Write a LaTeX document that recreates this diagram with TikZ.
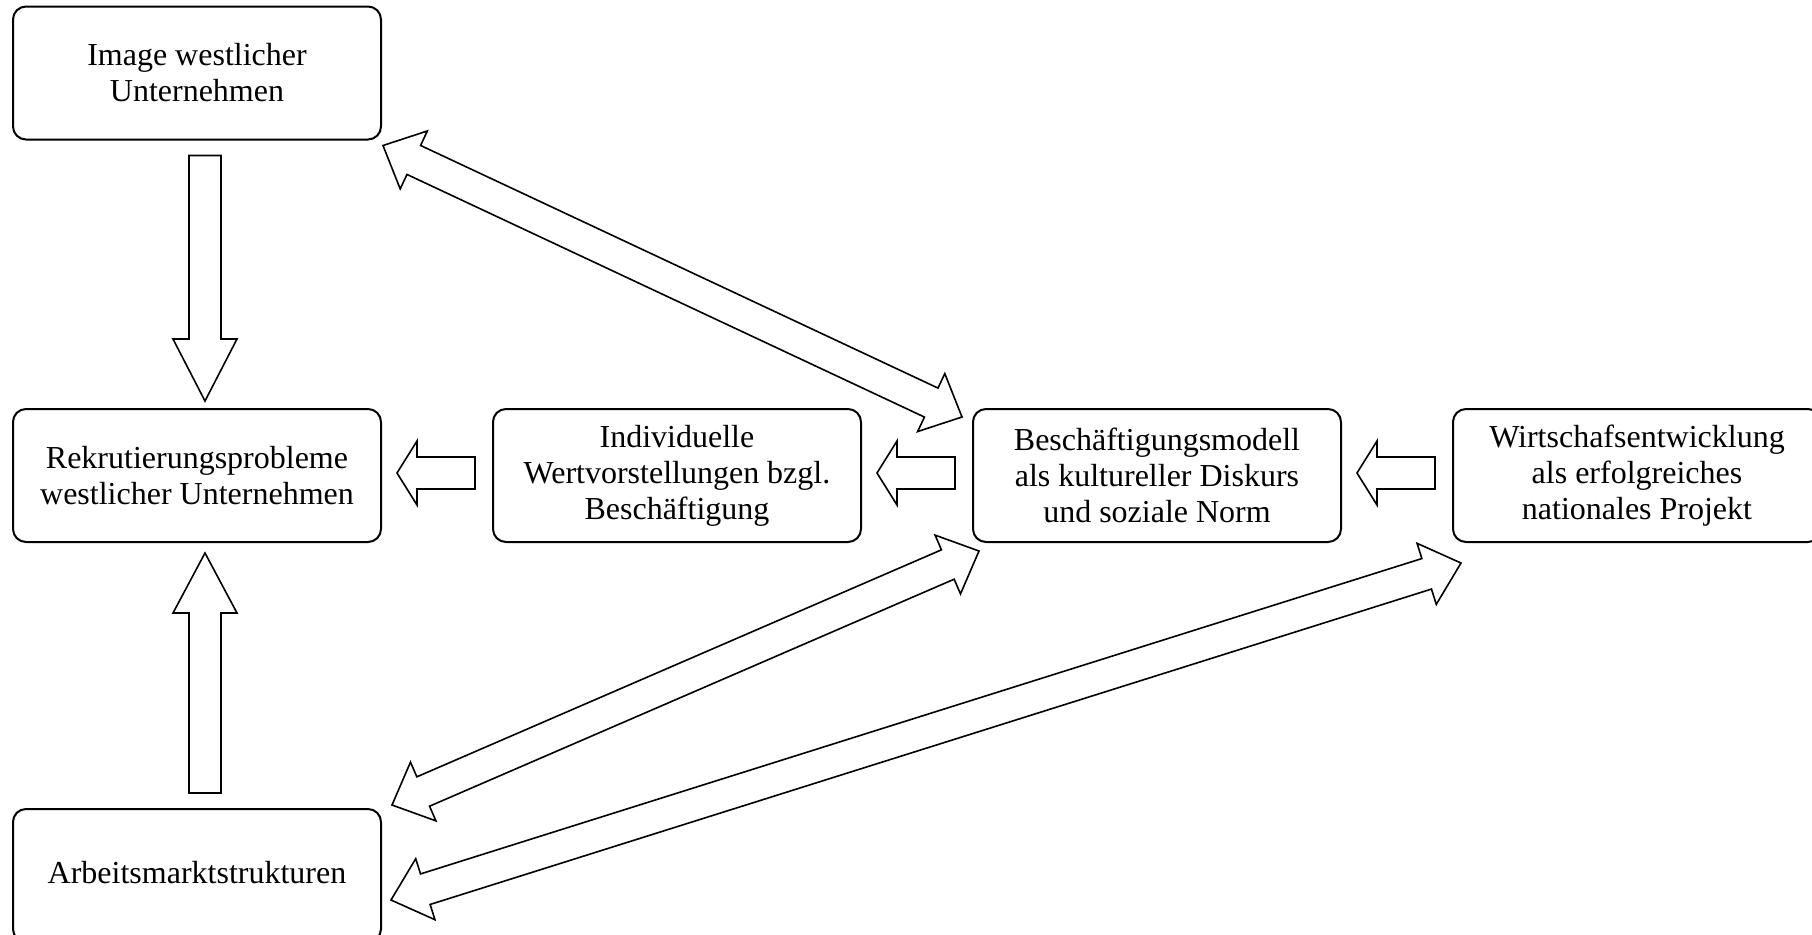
\documentclass[tikz,border=0pt]{standalone}
\usepackage{fontspec}
\setmainfont{Liberation Serif}
\usetikzlibrary{calc}

\newcommand{\arrshaft}{8pt}
\newcommand{\arrhead}{16pt}
% block arrow: tail, tip, head length
\newcommand{\onearrow}[3]{%
  \draw[fatarrow] ($(#1)!\arrshaft!90:(#2)$)
    -- ($(#2)!#3!(#1)!\arrshaft!90:(#2)$)
    -- ($(#2)!#3!(#1)!\arrhead!90:(#2)$)
    -- (#2)
    -- ($(#2)!#3!(#1)!\arrhead!270:(#2)$)
    -- ($(#2)!#3!(#1)!\arrshaft!270:(#2)$)
    -- ($(#1)!\arrshaft!270:(#2)$) -- cycle;}
% block arrow with two heads: tip, tip, head length
\newcommand{\twoarrow}[3]{%
  \draw[fatarrow] (#1)
    -- ($(#1)!#3!(#2)!\arrhead!90:(#2)$)
    -- ($(#1)!#3!(#2)!\arrshaft!90:(#2)$)
    -- ($(#2)!#3!(#1)!\arrshaft!90:(#2)$)
    -- ($(#2)!#3!(#1)!\arrhead!90:(#2)$)
    -- (#2)
    -- ($(#2)!#3!(#1)!\arrhead!270:(#2)$)
    -- ($(#2)!#3!(#1)!\arrshaft!270:(#2)$)
    -- ($(#1)!#3!(#2)!\arrshaft!270:(#2)$)
    -- ($(#1)!#3!(#2)!\arrhead!270:(#2)$) -- cycle;}

\begin{document}
\begin{tikzpicture}[x=0.5pt, y=-0.5pt,
    box/.style={rectangle, draw, line width=1pt, rounded corners=6.5pt,
      minimum width=184pt, minimum height=66.5pt, inner sep=0pt, outer sep=0pt,
      align=center, font=\fontsize{16pt}{18pt}\selectfont},
    fatarrow/.style={draw, line width=0.8pt, line join=miter}]
	\useasboundingbox (0,0) rectangle (1812,934);

	\node[box] (img) at (197, 73) {Image westlicher\\Unternehmen};
	\node[box] (rek) at (197, 475.5) {Rekrutierungsprobleme\\westlicher Unternehmen};
	\node[box] (ind) at (677, 475.5) {Individuelle\\Wertvorstellungen bzgl.\\Besch\"aftigung};
	\node[box] (bes) at (1157, 475.5) {Besch\"aftigungsmodell\\als kultureller Diskurs\\und soziale Norm};
	\node[box] (wir) at (1637, 475.5) {Wirtschafsentwicklung\\als erfolgreiches\\nationales Projekt};
	\node[box] (arb) at (197, 875.5) {\raisebox{3pt}{Arbeitsmarktstrukturen}};

	\coordinate (d1) at ($(img.south)+(8,16)$);
	\coordinate (d2) at ($(rek.north)+(8,-8)$);
	\coordinate (u1) at ($(arb.north)+(8,-16)$);
	\coordinate (u2) at ($(rek.south)+(8,11)$);
	\coordinate (h1) at ($(ind.west)+(-18,-2.5)$);
	\coordinate (h2) at ($(rek.east)+(16,-2.5)$);
	\coordinate (h3) at ($(bes.west)+(-18,-2.5)$);
	\coordinate (h4) at ($(ind.east)+(16,-2.5)$);
	\coordinate (h5) at ($(wir.west)+(-18,-2.5)$);
	\coordinate (h6) at ($(bes.east)+(16,-2.5)$);
	\coordinate (s1) at ($(img.south east)+(2,6)$);
	\coordinate (s2) at ($(bes.north west)+(-11,8)$);
	\coordinate (s3) at ($(arb.north east)+(11,-4)$);
	\coordinate (s4) at ($(bes.south west)+(6,9)$);
	\coordinate (s5) at ($(arb.east)+(10,24.5)$);
	\coordinate (s6) at ($(wir.south west)+(8,21)$);

	\onearrow{d1}{d2}{31pt}
	\onearrow{u1}{u2}{30pt}
	\onearrow{h1}{h2}{10pt}
	\onearrow{h3}{h4}{10pt}
	\onearrow{h5}{h6}{10pt}
	\twoarrow{s1}{s2}{17pt}
	\twoarrow{s3}{s4}{17pt}
	\twoarrow{s5}{s6}{18pt}

\end{tikzpicture}
\end{document}
